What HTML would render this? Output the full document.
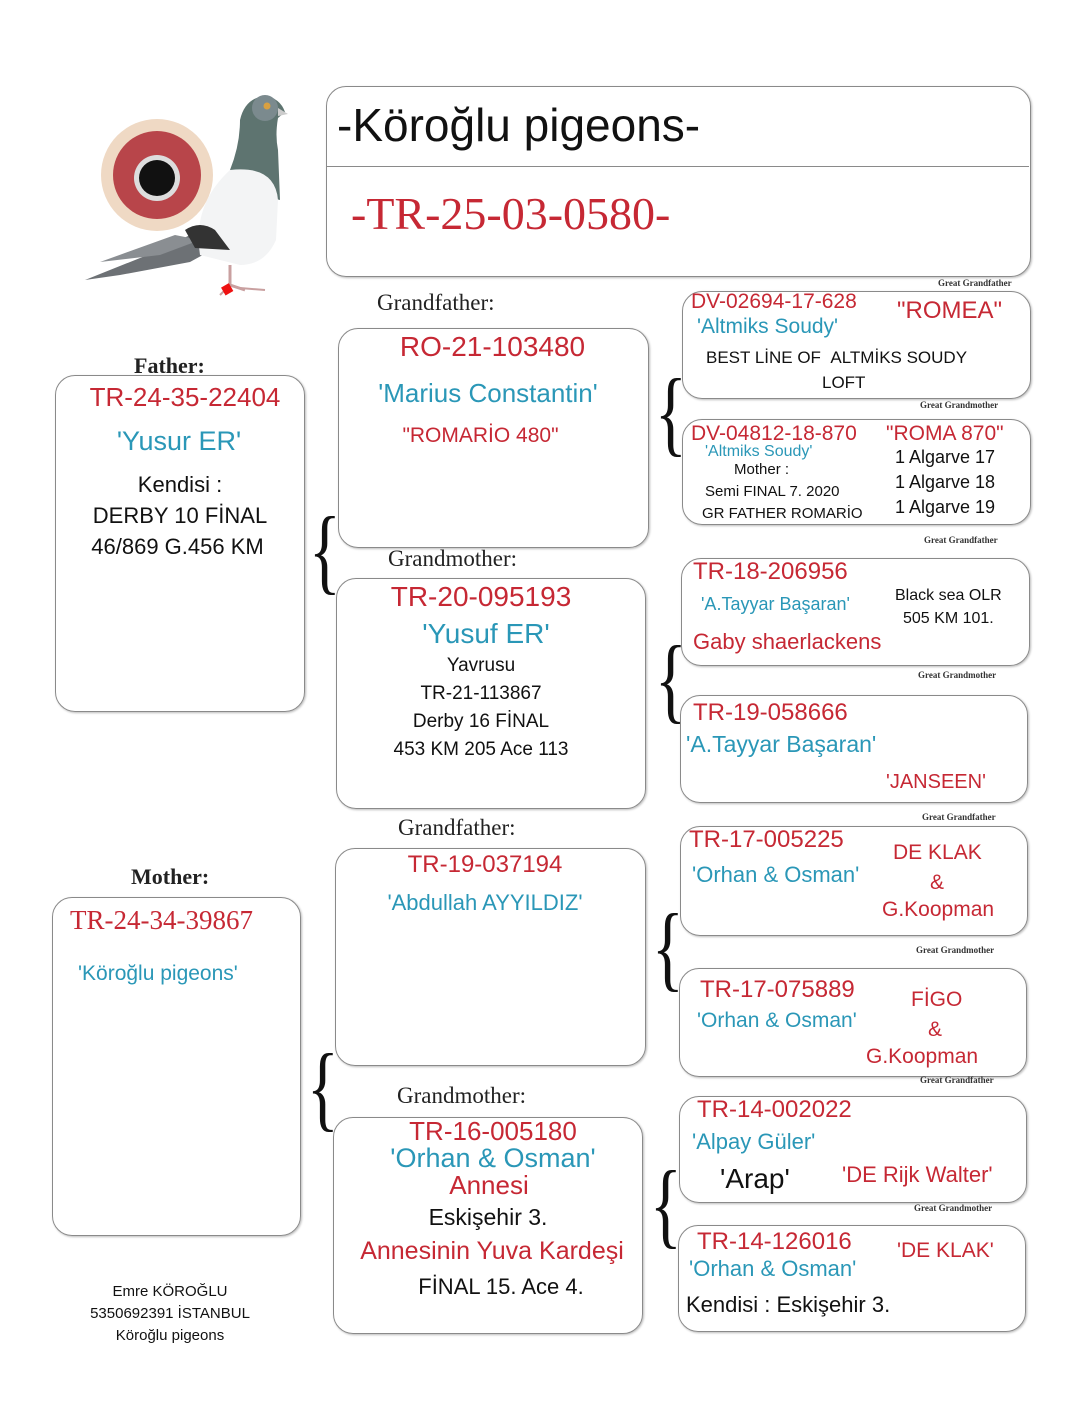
<!DOCTYPE html>
<html><head><meta charset="utf-8"><style>
body{margin:0;width:1080px;height:1407px;background:#fff;position:relative;overflow:hidden;font-family:"Liberation Sans",sans-serif}
.b{position:absolute;border:1.5px solid #8a8a8a;border-radius:20px;box-shadow:1px 1px 2px #bbb}
.t{position:absolute;white-space:nowrap;line-height:1}
.r{color:#c62834}.bl{color:#2a97b7}.k{color:#111}
.s{font-family:"Liberation Serif",serif;color:#222}
.c{text-align:center}
.br{position:absolute;font-family:"Liberation Serif",serif;color:#111;line-height:1;transform:scaleX(0.7)}
.g{position:absolute;font-family:"Liberation Serif",serif;font-size:9px;color:#333;font-weight:bold}
</style></head><body>

<svg style="position:absolute;left:80px;top:90px" width="220" height="220" viewBox="0 0 220 220">
<path d="M5 190 L80 160 L120 140 L150 150 L110 172 L40 185 Z" fill="#6d7175"/>
<path d="M20 172 L95 145 L120 150 L80 165Z" fill="#8a8e92"/>
<path d="M160 30 Q165 8 185 6 Q200 8 205 22 L198 28 Q195 45 198 60 L200 110 L160 100 L150 80 Q160 55 160 30Z" fill="#5e7470"/>
<circle cx="185" cy="18" r="13" fill="#7b8a8e"/>
<circle cx="187" cy="16" r="3.5" fill="#d9a040"/>
<path d="M198 18 L208 24 L198 26Z" fill="#ccc"/>
<path d="M150 80 Q195 75 198 110 L196 150 Q185 175 160 175 L120 165 Q112 115 150 80Z" fill="#f3f4f5"/>
<path d="M105 140 Q120 130 135 140 L150 160 L115 158Z" fill="#333"/>
<path d="M150 175 L150 195 L165 200" stroke="#c9a0a0" stroke-width="3" fill="none"/>
<path d="M150 195 L140 205 M160 198 L185 200" stroke="#c9a0a0" stroke-width="2" fill="none"/>
<rect x="143" y="195" width="9" height="9" fill="#e11" transform="rotate(-30 147 200)"/>
<circle cx="77" cy="85" r="56" fill="#efd9c4"/>
<circle cx="77" cy="85" r="44" fill="#b8454a"/>
<circle cx="77" cy="88" r="23" fill="#ddd"/>
<circle cx="77" cy="88" r="18" fill="#111"/>
</svg>

<div class="b" style="left:326px;top:86px;width:703px;height:189px"></div>
<div style="position:absolute;left:327px;top:166px;width:702px;border-top:1.5px solid #8a8a8a"></div>
<div class="t k" style="left:337px;top:102px;font-size:46px">-Köroğlu pigeons-</div>
<div class="t r" style="left:351px;top:191px;font-size:46px;font-family:'Liberation Serif',serif">-TR-25-03-0580-</div>

<!-- Father -->
<div class="t s" style="left:134px;top:355px;font-size:22px;font-weight:bold">Father:</div>
<div class="b" style="left:55px;top:375px;width:248px;height:335px"></div>
<div class="t r c" style="left:55px;width:260px;top:384px;font-size:26px">TR-24-35-22404</div>
<div class="t bl c" style="left:55px;width:248px;top:428px;font-size:27px">'Yusur ER'</div>
<div class="t k c" style="left:55px;width:250px;top:474px;font-size:22px">Kendisi :</div>
<div class="t k c" style="left:55px;width:250px;top:505px;font-size:22px">DERBY 10 FİNAL</div>
<div class="t k c" style="left:55px;width:245px;top:536px;font-size:22px">46/869 G.456 KM</div>

<!-- Mother -->
<div class="t s" style="left:131px;top:866px;font-size:22px;font-weight:bold">Mother:</div>
<div class="b" style="left:52px;top:897px;width:247px;height:337px"></div>
<div class="t r" style="left:70px;top:907px;font-size:27px;font-family:'Liberation Serif',serif">TR-24-34-39867</div>
<div class="t bl" style="left:78px;top:963px;font-size:21px">'Köroğlu pigeons'</div>
<div class="t k c" style="left:40px;width:260px;top:1281px;font-size:15px;line-height:22px">Emre KÖROĞLU<br>5350692391 İSTANBUL<br>Köroğlu pigeons</div>

<!-- GF1 -->
<div class="t s" style="left:377px;top:291px;font-size:23px">Grandfather:</div>
<div class="b" style="left:338px;top:328px;width:309px;height:218px"></div>
<div class="t r c" style="left:338px;width:309px;top:333px;font-size:28px">RO-21-103480</div>
<div class="t bl c" style="left:338px;width:300px;top:380px;font-size:26px">'Marius Constantin'</div>
<div class="t r c" style="left:338px;width:285px;top:425px;font-size:21px">"ROMARİO 480"</div>

<!-- GM1 -->
<div class="t s" style="left:388px;top:547px;font-size:23px">Grandmother:</div>
<div class="b" style="left:336px;top:578px;width:308px;height:229px"></div>
<div class="t r c" style="left:336px;width:290px;top:583px;font-size:28px">TR-20-095193</div>
<div class="t bl c" style="left:336px;width:300px;top:620px;font-size:28px">'Yusuf ER'</div>
<div class="t k c" style="left:336px;width:290px;top:656px;font-size:19px">Yavrusu</div>
<div class="t k c" style="left:336px;width:290px;top:684px;font-size:19px">TR-21-113867</div>
<div class="t k c" style="left:336px;width:290px;top:712px;font-size:19px">Derby 16 FİNAL</div>
<div class="t k c" style="left:336px;width:290px;top:740px;font-size:19px">453 KM 205 Ace 113</div>

<!-- GF2 -->
<div class="t s" style="left:398px;top:816px;font-size:23px">Grandfather:</div>
<div class="b" style="left:335px;top:848px;width:309px;height:216px"></div>
<div class="t r c" style="left:335px;width:300px;top:853px;font-size:24px">TR-19-037194</div>
<div class="t bl c" style="left:335px;width:300px;top:892px;font-size:22px">'Abdullah AYYILDIZ'</div>

<!-- GM2 -->
<div class="t s" style="left:397px;top:1084px;font-size:23px">Grandmother:</div>
<div class="b" style="left:333px;top:1117px;width:308px;height:215px"></div>
<div class="t r c" style="left:333px;width:320px;top:1118px;font-size:26px">TR-16-005180</div>
<div class="t bl c" style="left:333px;width:320px;top:1145px;font-size:27px">'Orhan &amp; Osman'</div>
<div class="t r c" style="left:333px;width:312px;top:1172px;font-size:26px">Annesi</div>
<div class="t k c" style="left:333px;width:310px;top:1206px;font-size:23px">Eskişehir 3.</div>
<div class="t r c" style="left:333px;width:318px;top:1239px;font-size:25px">Annesinin Yuva Kardeşi</div>
<div class="t k c" style="left:333px;width:336px;top:1276px;font-size:22px">FİNAL 15. Ace 4.</div>

<!-- braces -->
<div class="br" style="left:302px;top:503px;font-size:95px">{</div>
<div class="br" style="left:648px;top:365px;font-size:95px">{</div>
<div class="br" style="left:648px;top:632px;font-size:95px">{</div>
<div class="br" style="left:645px;top:900px;font-size:95px">{</div>
<div class="br" style="left:300px;top:1040px;font-size:95px">{</div>
<div class="br" style="left:643px;top:1157px;font-size:95px">{</div>

<!-- GG1 -->
<div class="g" style="left:938px;top:278px">Great Grandfather</div>
<div class="b" style="left:682px;top:291px;width:347px;height:106px"></div>
<div class="t r" style="left:691px;top:291px;font-size:21px">DV-02694-17-628</div>
<div class="t r" style="left:897px;top:299px;font-size:24px">"ROMEA"</div>
<div class="t bl" style="left:697px;top:316px;font-size:21px">'Altmiks Soudy'</div>
<div class="t k" style="left:706px;top:349px;font-size:17px">BEST LİNE OF &nbsp;ALTMİKS SOUDY</div>
<div class="t k" style="left:822px;top:374px;font-size:17px">LOFT</div>

<!-- GG2 -->
<div class="g" style="left:920px;top:400px">Great Grandmother</div>
<div class="b" style="left:682px;top:419px;width:347px;height:104px"></div>
<div class="t r" style="left:691px;top:423px;font-size:21px">DV-04812-18-870</div>
<div class="t r" style="left:886px;top:423px;font-size:21px">"ROMA 870"</div>
<div class="t bl" style="left:705px;top:444px;font-size:16px">'Altmiks Soudy'</div>
<div class="t k" style="left:734px;top:462px;font-size:15px">Mother :</div>
<div class="t k" style="left:705px;top:484px;font-size:15px">Semi FINAL 7. 2020</div>
<div class="t k" style="left:702px;top:506px;font-size:15px">GR FATHER ROMARİO</div>
<div class="t k" style="left:895px;top:448px;font-size:18px">1 Algarve 17</div>
<div class="t k" style="left:895px;top:473px;font-size:18px">1 Algarve 18</div>
<div class="t k" style="left:895px;top:498px;font-size:18px">1 Algarve 19</div>

<!-- GG3 -->
<div class="g" style="left:924px;top:535px">Great Grandfather</div>
<div class="b" style="left:681px;top:558px;width:347px;height:106px"></div>
<div class="t r" style="left:693px;top:560px;font-size:24px">TR-18-206956</div>
<div class="t bl" style="left:701px;top:595px;font-size:18px">'A.Tayyar Başaran'</div>
<div class="t k" style="left:895px;top:588px;font-size:16px">Black sea OLR</div>
<div class="t k" style="left:903px;top:611px;font-size:16px">505 KM 101.</div>
<div class="t r" style="left:693px;top:631px;font-size:22px">Gaby shaerlackens</div>

<!-- GG4 -->
<div class="g" style="left:918px;top:670px">Great Grandmother</div>
<div class="b" style="left:680px;top:695px;width:346px;height:106px"></div>
<div class="t r" style="left:693px;top:701px;font-size:24px">TR-19-058666</div>
<div class="t bl" style="left:686px;top:733px;font-size:23px">'A.Tayyar Başaran'</div>
<div class="t r" style="left:886px;top:772px;font-size:20px">'JANSEEN'</div>

<!-- GG5 -->
<div class="g" style="left:922px;top:812px">Great Grandfather</div>
<div class="b" style="left:680px;top:826px;width:346px;height:108px"></div>
<div class="t r" style="left:689px;top:828px;font-size:24px">TR-17-005225</div>
<div class="t bl" style="left:692px;top:864px;font-size:22px">'Orhan &amp; Osman'</div>
<div class="t r" style="left:893px;top:842px;font-size:21px">DE KLAK</div>
<div class="t r" style="left:930px;top:872px;font-size:21px">&amp;</div>
<div class="t r" style="left:882px;top:899px;font-size:21px">G.Koopman</div>

<!-- GG6 -->
<div class="g" style="left:916px;top:945px">Great Grandmother</div>
<div class="b" style="left:679px;top:968px;width:346px;height:107px"></div>
<div class="t r" style="left:700px;top:978px;font-size:24px">TR-17-075889</div>
<div class="t bl" style="left:697px;top:1010px;font-size:21px">'Orhan &amp; Osman'</div>
<div class="t r" style="left:911px;top:989px;font-size:21px">FİGO</div>
<div class="t r" style="left:928px;top:1019px;font-size:21px">&amp;</div>
<div class="t r" style="left:866px;top:1046px;font-size:21px">G.Koopman</div>

<!-- GG7 -->
<div class="g" style="left:920px;top:1075px">Great Grandfather</div>
<div class="b" style="left:679px;top:1096px;width:346px;height:105px"></div>
<div class="t r" style="left:697px;top:1098px;font-size:24px">TR-14-002022</div>
<div class="t bl" style="left:692px;top:1131px;font-size:22px">'Alpay Güler'</div>
<div class="t k" style="left:720px;top:1165px;font-size:28px">'Arap'</div>
<div class="t r" style="left:842px;top:1164px;font-size:22px">'DE Rijk Walter'</div>

<!-- GG8 -->
<div class="g" style="left:914px;top:1203px">Great Grandmother</div>
<div class="b" style="left:678px;top:1225px;width:346px;height:105px"></div>
<div class="t r" style="left:697px;top:1230px;font-size:24px">TR-14-126016</div>
<div class="t r" style="left:897px;top:1240px;font-size:21px">'DE KLAK'</div>
<div class="t bl" style="left:689px;top:1258px;font-size:22px">'Orhan &amp; Osman'</div>
<div class="t k" style="left:686px;top:1294px;font-size:22px">Kendisi : Eskişehir 3.</div>

</body></html>
